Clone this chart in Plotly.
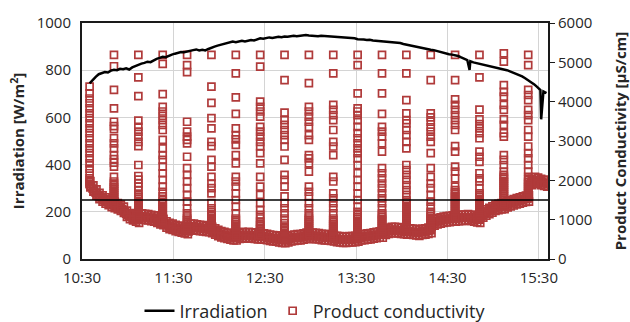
import plotly.graph_objects as go
from datetime import datetime, timedelta

# ---------------------------------------------------------------- data --
x_ticks = ["10:30", "11:30", "12:30", "13:30", "14:30", "15:30"]
x_first, x_last = "10:30", "15:36"

# Solar irradiation [W/m2], logged every 2 minutes from 10:35
irr_start = "10:35"
irr_step_min = 2
irradiation = [
    744, 760, 772, 783, 786, 792, 790, 798, 802, 800,
    806, 804, 808, 803, 812, 818, 822, 828, 831, 836,
    834, 842, 848, 852, 857, 855, 862, 866, 870, 874,
    877, 876, 880, 883, 885, 888, 884, 887, 884, 890,
    896, 900, 904, 908, 911, 914, 917, 921, 919, 922,
    925, 922, 925, 928, 926, 931, 935, 933, 936, 939,
    937, 941, 942, 940, 943, 942, 944, 946, 944, 946,
    947, 949, 947, 945, 946, 944, 946, 945, 945, 943,
    942, 943, 940, 941, 938, 937, 936, 935, 931, 932,
    930, 928, 929, 926, 925, 923, 924, 921, 920, 918,
    919, 917, 915, 911, 908, 905, 902, 899, 896, 893,
    891, 889, 887, 885, 881, 877, 873, 870, 868, 866,
    864, 860, 854, 848, 843, 838, 833, 830, 827, 823,
    820, 818, 815, 812, 810, 808, 803, 800, 795, 790,
    785, 780, 774, 766, 758, 750, 740, 728, 716, 710, 703,
]
# short shading dips between the regular samples
irr_dip_times = ["14:44", "15:31"]
irr_dip_values = [801, 592]

# Product conductivity [µS/cm] between flushes, one reading per minute from 10:35
cond_start = "10:35"
cond_step_min = 1
conductivity = [
    1900, 1850, 1790, 1740, 1690, 1640, 1600, 1570, 1540, 1510,
    1490, 1470, 1450, 1420, 1400, 1380, 1370, 1350, 1340, 1330,
    1300, 1270, 1250, 1200, 1150, 1120, 1090, 1080, 1060, 1040,
    1030, 1010, 1000, 1060, 1080, 1080, 1070, 1070, 1060, 1050,
    1040, 1040, 1030, 1020, 1000, 980, 960, 950, 940, 900,
    880, 860, 840, 830, 820, 800, 790, 780, 770, 760,
    750, 740, 730, 720, 710, 700, 820, 830, 820, 810,
    800, 800, 790, 790, 780, 780, 770, 760, 760, 750,
    740, 720, 700, 680, 660, 640, 630, 620, 610, 600,
    590, 580, 570, 560, 550, 550, 550, 560, 590, 610,
    610, 600, 600, 610, 610, 600, 600, 590, 590, 590,
    580, 580, 580, 580, 570, 570, 560, 550, 540, 530,
    530, 520, 520, 510, 500, 500, 490, 490, 480, 480,
    500, 520, 530, 540, 540, 550, 550, 550, 550, 560,
    570, 580, 590, 590, 590, 590, 590, 590, 585, 580,
    580, 570, 560, 560, 550, 550, 550, 540, 540, 530,
    530, 520, 510, 500, 500, 500, 490, 490, 490, 500,
    500, 500, 500, 510, 510, 520, 520, 540, 550, 560,
    560, 570, 570, 580, 580, 590, 600, 600, 610, 610,
    620, 620, 620, 660, 690, 700, 720, 730, 740, 740,
    740, 730, 730, 720, 720, 710, 710, 700, 700, 700,
    700, 690, 690, 680, 680, 670, 670, 680, 690, 700,
    700, 710, 720, 730, 740, 900, 930, 950, 960, 970,
    980, 990, 1000, 1000, 1010, 1020, 1020, 1030, 1030, 1030,
    1030, 1040, 1040, 1050, 1050, 1050, 1050, 1060, 1060, 1060,
    1050, 1040, 1030, 1020, 1010, 1000, 1000, 1080, 1130, 1160,
    1180, 1200, 1220, 1240, 1260, 1280, 1300, 1310, 1320, 1330,
    1340, 1350, 1350, 1370, 1390, 1400, 1420, 1430, 1440, 1460,
    1470, 1480, 1490, 1500, 1510, 1520, 1530, 1540, 1540, 1900,
    1960, 2000, 2010, 2000, 1990, 1980, 1960, 1950, 1940, 1930,
    1920, 1900,
]

# Fluctuation of the sensor between the minute readings: highest and lowest
# value seen in each 2-minute window (logged at half-minute, from 10:35:30)
cond_peak_start = "10:35"
cond_peak_step_min = 2
cond_high = [
    1980, 1870, 1770, 1680, 1620, 1570, 1530, 1480, 1450, 1420,
    1380, 1330, 1230, 1170, 1140, 1110, 1090, 1160, 1150, 1140,
    1120, 1110, 1080, 1040, 1020, 960, 920, 900, 870, 850,
    830, 810, 790, 900, 900, 880, 870, 860, 850, 840,
    820, 780, 740, 710, 690, 670, 650, 630, 630, 670,
    690, 680, 690, 680, 670, 660, 660, 650, 640, 620,
    610, 600, 580, 570, 560, 580, 610, 620, 630, 630,
    650, 670, 670, 670, 665, 660, 640, 630, 630, 620,
    610, 590, 580, 570, 570, 580, 580, 590, 600, 630,
    640, 650, 660, 680, 690, 700, 700, 770, 800, 820,
    820, 810, 800, 790, 780, 780, 770, 760, 750, 770,
    780, 800, 820, 1010, 1040, 1060, 1080, 1090, 1100, 1110,
    1110, 1120, 1130, 1130, 1140, 1130, 1110, 1090, 1080, 1210,
    1260, 1300, 1340, 1380, 1400, 1420, 1430, 1470, 1500, 1520,
    1550, 1570, 1590, 1610, 1620, 2040, 2090, 2070, 2040, 2020,
    2000,
]
cond_low = [
    1820, 1710, 1610, 1520, 1460, 1410, 1370, 1320, 1290, 1260,
    1220, 1170, 1070, 1010, 980, 950, 920, 1000, 990, 980,
    960, 950, 920, 880, 860, 800, 760, 740, 710, 690,
    670, 650, 630, 740, 740, 720, 710, 700, 690, 680,
    660, 620, 580, 550, 530, 510, 490, 470, 470, 510,
    530, 520, 530, 520, 510, 500, 500, 490, 480, 460,
    450, 440, 420, 410, 400, 420, 450, 460, 470, 470,
    490, 510, 510, 510, 505, 500, 480, 470, 470, 460,
    450, 430, 420, 410, 410, 420, 420, 430, 440, 470,
    480, 490, 500, 520, 530, 540, 540, 610, 640, 660,
    660, 650, 640, 630, 620, 620, 610, 600, 590, 610,
    620, 640, 660, 850, 880, 900, 920, 930, 940, 950,
    950, 960, 970, 970, 980, 970, 950, 930, 920, 1050,
    1100, 1140, 1180, 1220, 1240, 1260, 1270, 1310, 1340, 1360,
    1390, 1410, 1430, 1450, 1460, 1880, 1930, 1910, 1880, 1860,
    1840,
]

# Readings logged during each membrane flush (every 16 minutes)
flush_times = [
    "10:35", "10:51", "11:07", "11:23", "11:39", "11:55", "12:11",
    "12:27", "12:43", "12:59", "13:15", "13:31", "13:47", "14:03",
    "14:19", "14:35", "14:51", "15:07", "15:23",
]
flush_readings = [
    [4380, 4210, 4080, 3960, 3830, 3700, 3580, 3450, 3320, 3200, 3070, 2940,
     2810, 2690, 2560, 2430, 2300, 2180, 2050, 2000, 1960, 1920],
    [5190, 4900, 4300, 3830, 3490, 3380, 3300, 3070, 2940, 2810, 2640, 2540,
     2450, 2350, 2090, 1970, 1920, 1870, 1820, 1770, 1720, 1670, 1620, 1570,
     1520, 1470, 1420],
    [5190, 4620, 4140, 3520, 3360, 3240, 3110, 2980, 2870, 2390, 2110, 2020,
     1920, 1840, 1750, 1630, 1580, 1530, 1480, 1430, 1380, 1330, 1280, 1230,
     1180, 1130, 1080, 1030],
    [5190, 4960, 4190, 3870, 3750, 3640, 3530, 3410, 3280, 3030, 2810, 2640,
     2520, 2350, 2180, 2010, 1840, 1710, 1590, 1500, 1450, 1400, 1350, 1300,
     1250, 1200, 1150, 1100, 1050, 1000, 960],
    [5190, 4930, 4750, 3490, 3240, 3110, 3030, 2940, 2600, 2310, 2140, 1970,
     1800, 1630, 1460, 1290, 1160, 1080, 1030, 980, 930, 880, 830, 780, 730],
    [5190, 4380, 3970, 3580, 3320, 2980, 2870, 2520, 2350, 2090, 1920, 1800,
     1670, 1420, 1290, 1200, 1150, 1100, 1050, 1000, 950, 900, 850, 800, 760],
    [5190, 4720, 4110, 3690, 3320, 3150, 3040, 2900, 2640, 2430, 2090, 1970,
     1840, 1670, 1500, 1330, 1160, 1030, 990, 940, 890, 840, 790, 740, 690,
     640, 590],
    [5190, 4890, 4000, 3870, 3750, 3620, 3360, 3240, 3110, 2980, 2860, 2690,
     2430, 2090, 1840, 1630, 1420, 1250, 1120, 1030, 950, 900, 850, 800, 750,
     700, 650, 610],
    [5190, 4550, 3720, 3530, 3410, 3280, 3150, 3030, 2860, 2520, 2140, 2010,
     1840, 1590, 1420, 1290, 1160, 1030, 910, 820, 780, 740, 700, 660, 620,
     580, 540, 500],
    [5190, 4470, 3870, 3750, 3620, 3490, 3360, 3150, 3030, 2640, 2560, 2430,
     2220, 1840, 1710, 1590, 1420, 1290, 1160, 1080, 1030, 980, 930, 880, 830,
     780, 730, 680, 630],
    [5190, 4720, 3920, 3790, 3660, 3530, 3280, 2980, 2860, 2640, 2090, 1970,
     1670, 1540, 1420, 1290, 1160, 1030, 980, 930, 880, 830, 780, 730, 680,
     630, 580, 540],
    [5190, 4930, 4210, 3830, 3750, 3660, 3530, 3360, 3200, 3070, 2940, 2810,
     2690, 2560, 2390, 2180, 2010, 1840, 1670, 1500, 1330, 1200, 1120, 1070,
     1020, 970, 920, 870, 820, 770, 720, 670, 620, 570, 530],
    [5190, 4720, 4210, 3690, 3360, 3240, 3110, 2940, 2730, 2310, 2180, 2050,
     1920, 1800, 1670, 1540, 1420, 1290, 1160, 1120, 1070, 1020, 970, 920,
     870, 820, 770, 720, 670, 630],
    [5190, 4720, 4040, 3700, 3530, 3450, 3280, 3150, 2980, 2810, 2390, 2260,
     2140, 2010, 1880, 1750, 1630, 1500, 1450, 1400, 1350, 1300, 1250, 1200,
     1150, 1100, 1050, 1000, 950, 900, 850, 800, 750],
    [5190, 4550, 3700, 3600, 3490, 3350, 3240, 3110, 2980, 2690, 2310, 2090,
     1920, 1800, 1630, 1460, 1330, 1200, 1150, 1100, 1050, 1000, 950, 900,
     850, 800, 760],
    [5190, 4550, 4060, 3920, 3790, 3660, 3530, 3410, 3280, 2870, 2730, 2350,
     2220, 2050, 1840, 1750, 1700, 1650, 1600, 1550, 1500, 1450, 1400, 1350,
     1300, 1250, 1200, 1150, 1100, 1050],
    [5190, 4620, 3800, 3550, 3430, 3320, 3200, 3070, 2730, 2600, 2470, 2180,
     2050, 1970, 1800, 1670, 1620, 1570, 1520, 1470, 1420, 1370, 1320, 1270,
     1220, 1170, 1120, 1070, 1020],
    [5230, 5020, 4420, 4250, 4130, 3920, 3790, 3550, 3410, 3200, 3110, 2640,
     2520, 2390, 2220, 2140, 2090, 2040, 1990, 1940, 1890, 1840, 1790, 1740,
     1690, 1640, 1590, 1540, 1490, 1440, 1390],
    [5190, 4930, 4300, 4170, 4040, 3790, 3660, 3530, 3280, 3110, 2860, 2690,
     2560, 2390, 2220, 2090, 2010, 1960, 1910, 1860, 1810, 1760, 1710, 1660,
     1610, 1560],
]

conductivity_limit = 1500  # µS/cm

# ------------------------------------------------------------- helpers --
def at(hhmm, plus_min=0.0):
    h, m = (int(v) for v in hhmm.split(":"))
    return datetime(2000, 1, 1, h, m) + timedelta(minutes=plus_min)


# irradiation series: regular samples plus the short dips, in time order
irr_pts = [(at(irr_start, i * irr_step_min), v) for i, v in enumerate(irradiation)]
irr_pts += [(at(t, 0.5), v) for t, v in zip(irr_dip_times, irr_dip_values)]
irr_pts.sort(key=lambda p: p[0])
irr_x = [p[0] for p in irr_pts]
irr_y = [p[1] for p in irr_pts]

# conductivity series: minute log, half-minute extremes and flush readings
cond_x = [at(cond_start, i * cond_step_min) for i in range(len(conductivity))]
cond_y = list(conductivity)
for series in (cond_high, cond_low):
    cond_x += [at(cond_peak_start, 0.5 + i * cond_peak_step_min) for i in range(len(series))]
    cond_y += series
for t, readings in zip(flush_times, flush_readings):
    cond_x += [at(t)] * len(readings)
    cond_y += readings

RED = "#b03a3a"
INK = "#262626"
GRID = "#d4d4d4"
FONT = "Open Sans"

fig = go.Figure()

fig.add_trace(go.Scatter(
    x=irr_x, y=irr_y, yaxis="y2", mode="lines", name="Irradiation",
    line=dict(color="#000000", width=2.5),
))
fig.add_trace(go.Scatter(
    x=cond_x, y=cond_y, yaxis="y", mode="markers", name="Product conductivity",
    marker=dict(symbol="square-open", size=7, color=RED, line=dict(width=1.7, color=RED)),
))

fig.add_shape(
    type="line", xref="paper", x0=0, x1=1, yref="y",
    y0=conductivity_limit, y1=conductivity_limit,
    line=dict(color="#000000", width=1.5), layer="above",
)

fig.update_layout(
    width=630, height=322,
    margin=dict(l=82, r=82, t=23, b=63, autoexpand=False),
    paper_bgcolor="white", plot_bgcolor="white",
    font=dict(family=FONT, size=15, color=INK),
    showlegend=True,
    legend=dict(
        orientation="h", x=0.5, xanchor="center",
        yref="container", y=0.034, yanchor="middle",
        font=dict(size=18, color=INK), traceorder="normal",
        itemwidth=30,
    ),
    xaxis=dict(
        type="date", range=[at(x_first), at(x_last)],
        tickvals=[at(t) for t in x_ticks], ticktext=x_ticks,
        showgrid=True, gridcolor=GRID, gridwidth=1,
        showline=True, linecolor="#1a1a1a", linewidth=2, mirror=True,
        ticks="outside", ticklen=4, tickcolor="rgba(0,0,0,0)",
        zeroline=False,
    ),
    # conductivity axis on the right
    yaxis=dict(
        side="right", range=[0, 6000], dtick=1000,
        showgrid=False, zeroline=False,
        showline=True, linecolor="#1a1a1a", linewidth=2,
        ticks="outside", ticklen=5, tickcolor="#1a1a1a",
        title=dict(text="Product Conductivity [µS/cm]", standoff=24,
                   font=dict(size=15, weight="bold", color=INK)),
    ),
    # irradiation axis on the left, drawn above so the line sits on top
    yaxis2=dict(
        overlaying="y", side="left", range=[0, 1000], dtick=200,
        showgrid=True, gridcolor=GRID, gridwidth=1, zeroline=False,
        showline=True, linecolor="#1a1a1a", linewidth=2,
        ticks="outside", ticklen=6, tickcolor="rgba(0,0,0,0)",
        title=dict(text="Irradiation [W/m<sup>2</sup>]", standoff=8,
                   font=dict(size=15, weight="bold", color=INK)),
    ),
)

fig.write_html("out.html")
